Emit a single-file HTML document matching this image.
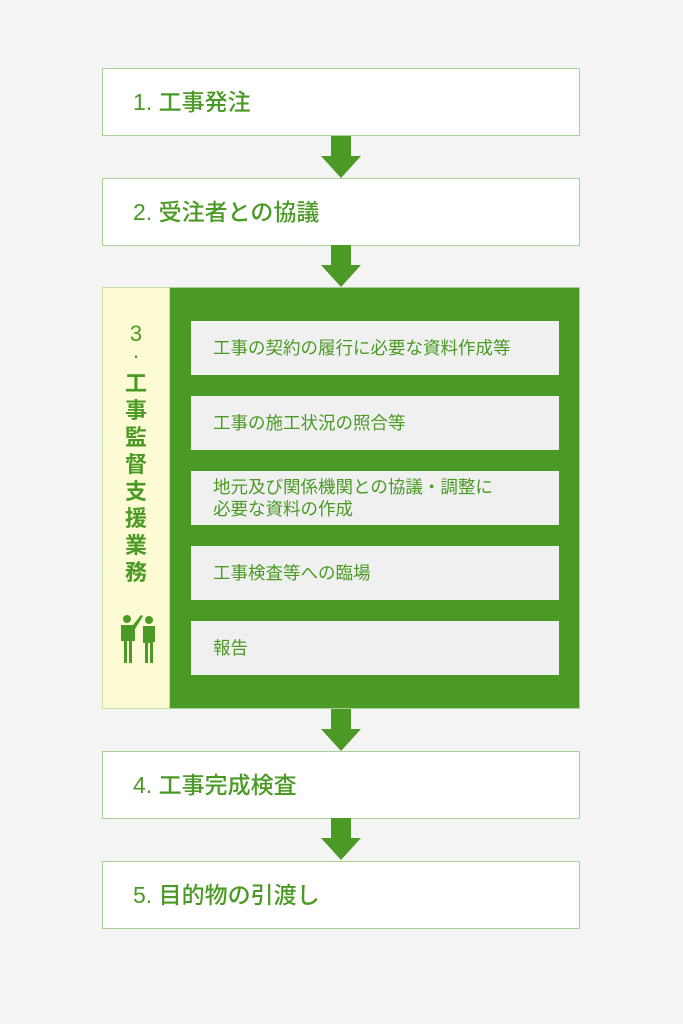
<!DOCTYPE html>
<html><head><meta charset="utf-8"><style>
body{margin:0;width:683px;height:1024px;background:#f4f4f4;position:relative;font-family:"Liberation Sans","Noto Sans CJK JP",sans-serif;color:#4a9a25;overflow:hidden}
.b{position:absolute;left:102px;height:68px;background:#fff;border:1px solid #a9cf95;font-size:23px;line-height:66px;padding-left:30px;box-sizing:border-box;width:478px;font-weight:500}
.ar{position:absolute;left:321px;width:40px;height:42px}
.g{position:absolute;left:102px;top:287px;width:478px;height:422px;background:#4a9a25;border:1px solid #a9cf95;box-sizing:border-box}
.y{position:absolute;left:102px;top:287px;width:68px;height:422px;background:#fdfbd4;border:1px solid #c5dfa8;box-sizing:border-box}
.i{position:absolute;left:191px;width:368px;height:54px;background:#f0f0f0;font-size:17.5px;padding-left:22px;box-sizing:border-box;display:flex;align-items:center;line-height:22px}
.v{position:absolute;left:102px;width:68px;text-align:center;font-size:22px;font-weight:bold;line-height:27px}
</style></head><body>
<div class="b" style="top:68px">1. 工事発注</div>
<svg class="ar" style="top:136px" viewBox="0 0 40 42"><path d="M10 0H30V20H40L20 42L0 20H10Z" fill="#4a9a25"/></svg>
<div class="b" style="top:178px">2. 受注者との協議</div>
<svg class="ar" style="top:245px" viewBox="0 0 40 42"><path d="M10 0H30V20H40L20 42L0 20H10Z" fill="#4a9a25"/></svg>
<div class="g"></div>
<div class="y"></div>
<div class="v" style="top:323px;font-weight:normal;line-height:22px">3<br>·</div>
<div class="v" style="top:370px">工<br>事<br>監<br>督<br>支<br>援<br>業<br>務</div>
<svg style="position:absolute;left:118px;top:613px" width="40" height="52" viewBox="0 0 40 52"><g fill="#4a9a25"><circle cx="9" cy="6" r="4"/><path d="M3 12h12l8-10 2 1-8 13v12h-3v22h-3v-22h-2v22H6V28H3z"/><circle cx="31" cy="7" r="4"/><path d="M25 13h12v16h-2v21h-3V30h-2v20h-3V30h-2z"/></g></svg>
<div class="i" style="top:321px">工事の契約の履行に必要な資料作成等</div>
<div class="i" style="top:396px">工事の施工状況の照合等</div>
<div class="i" style="top:471px">地元及び関係機関との協議・調整に<br>必要な資料の作成</div>
<div class="i" style="top:546px">工事検査等への臨場</div>
<div class="i" style="top:621px">報告</div>
<svg class="ar" style="top:709px" viewBox="0 0 40 42"><path d="M10 0H30V20H40L20 42L0 20H10Z" fill="#4a9a25"/></svg>
<div class="b" style="top:751px">4. 工事完成検査</div>
<svg class="ar" style="top:818px" viewBox="0 0 40 42"><path d="M10 0H30V20H40L20 42L0 20H10Z" fill="#4a9a25"/></svg>
<div class="b" style="top:861px">5. 目的物の引渡し</div>
</body></html>
